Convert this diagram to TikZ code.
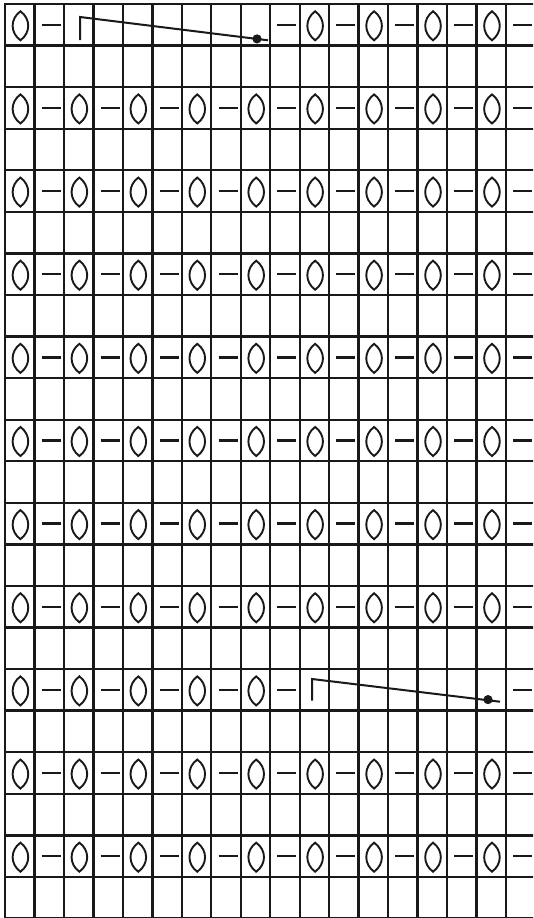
\documentclass[tikz,border=0pt]{standalone}
\begin{document}
\begin{tikzpicture}[x=1pt,y=-1pt,
  gridline/.style={line width=2.4pt,black!90},
  yo/.style={line width=1.9pt,black!90},
  purl/.style={line width=2.4pt,black!90},
  cable/.style={line width=2pt,black!90},
  lens/.pic={\draw[yo] (0,-14.5) .. controls (10.4,-7) and (10.4,7) .. (0,14.5)
                       .. controls (-10.4,7) and (-10.4,-7) .. (0,-14.5) -- cycle;},
  purlmark/.pic={\draw[purl] (-9.5,0) -- (9.5,0);}]
\useasboundingbox (0,0) rectangle (533,918);
\fill[white] (0,0) rectangle (533,918);
\def\cw{29.47}
\def\rh{41.57}
% grid
\begin{scope}
  \clip (0,0) rectangle (533,918);
  \foreach \i in {0,...,18}
    \draw[gridline] ({5+\cw*\i},3) -- ({5+\cw*\i},925);
  \foreach \j in {0,...,22}
    \draw[gridline] (4,{4+\rh*\j}) -- (540,{4+\rh*\j});
\end{scope}
% symbols
\newcommand\lensat[2]{\pic at ({5+\cw*(#1+0.5)+0.7},{4+\rh*(#2+0.5)+1}) {lens};}
\newcommand\purlat[2]{\pic at ({5+\cw*(#1+0.5)+2},{4+\rh*(#2+0.5)}) {purlmark};}
% row 0
\foreach \i in {0,10,12,14,16} {\lensat{\i}{0}}
\foreach \i in {1,9,11,13,15,17} {\purlat{\i}{0}}
% row 16
\foreach \i in {0,2,4,6,8} {\lensat{\i}{16}}
\foreach \i in {1,3,5,7,9,17} {\purlat{\i}{16}}
% regular rows
\foreach \j in {2,4,6,8,10,12,14,18,20} {
  \foreach \i in {0,2,...,16} {\lensat{\i}{\j}}
  \foreach \i in {1,3,...,17} {\purlat{\i}{\j}}
}
% cables
\coordinate (ca0) at (80,40);
\coordinate (cb0) at (80,17);
\coordinate (ce0) at (268,40.3);
\coordinate (cd0) at (257,38.9);
\draw[cable] (ca0) -- (cb0) -- (ce0);
\fill[black!90] (cd0) circle (4.6);
\coordinate (ca1) at (312,700.7);
\coordinate (cb1) at (312,679);
\coordinate (ce1) at (500,701.7);
\coordinate (cd1) at (488,699.6);
\draw[cable] (ca1) -- (cb1) -- (ce1);
\fill[black!90] (cd1) circle (4.6);
\end{tikzpicture}
\end{document}
